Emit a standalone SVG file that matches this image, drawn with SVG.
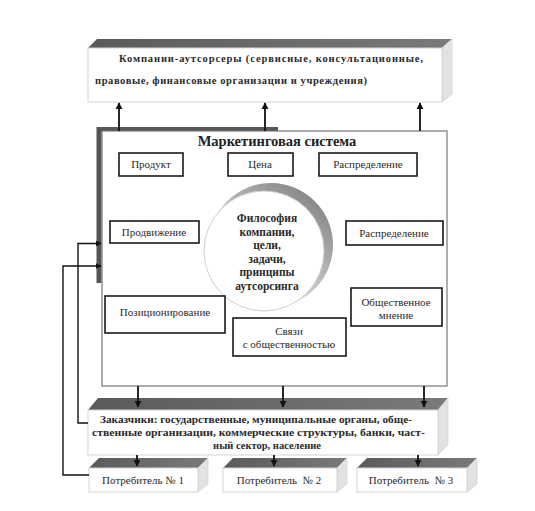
<svg xmlns="http://www.w3.org/2000/svg" width="535" height="511" viewBox="0 0 535 511" font-family="'Liberation Serif', 'Times New Roman', serif">
<style>
.bg{fill:#ffffff}
.box{fill:#ffffff;stroke:#1a1a1a;stroke-width:1.6}
.front{fill:#ffffff;stroke:#d4d4d4;stroke-width:1}
.bevel{fill:url(#bev)}
.side{fill:#e2e2e2;stroke:#d4d4d4;stroke-width:0.8}
text{font-family:'Liberation Serif','Times New Roman',serif}
.t{font-size:11px;fill:#2a2a2a;text-anchor:middle}
.tb{font-size:10.5px;font-weight:bold;fill:#2a2a2a}
.tc{font-size:11.5px;font-weight:bold;fill:#2a2a2a;text-anchor:middle}
.title{font-size:14.5px;font-weight:bold;fill:#222;text-anchor:middle}
.ln{fill:none;stroke:#111;stroke-width:1.8}
.ln2{fill:none;stroke:#111;stroke-width:1.4}
</style>
<defs>
<linearGradient id="bev" x1="0" y1="0" x2="1" y2="0">
<stop offset="0" stop-color="#5a5a5a"/>
<stop offset="1" stop-color="#7a7a7a"/>
</linearGradient>
<linearGradient id="crescent" x1="0.9" y1="0" x2="0.1" y2="1">
<stop offset="0" stop-color="#7a7a7a"/>
<stop offset="0.5" stop-color="#c0c0c0"/>
<stop offset="1" stop-color="#f2f2f2"/>
</linearGradient>
<marker id="ah" viewBox="0 0 10 10" refX="9" refY="5" markerWidth="4" markerHeight="4" orient="auto">
<path d="M0,0 L10,5 L0,10 z" fill="#111"/>
</marker>
</defs>
<rect class="bg" x="0" y="0" width="535" height="511"/>

<g id="outsourcers">
<polygon class="bevel" points="88,48 97,39 452,39 442,48"/>
<polygon class="side" points="442,48 452,39 452,94 442,102"/>
<rect class="front" x="88" y="48" width="354" height="54"/>
<text class="tb" x="119" y="62" textLength="304" lengthAdjust="spacing">Компании-аутсорсеры  (сервисные,  консультационные,</text>
<text class="tb" x="95" y="84" textLength="272" lengthAdjust="spacing">правовые, финансовые организации и учреждения)</text>
</g>

<g id="marketing-system">
<path d="M99,283 V129.5 H278" fill="none" stroke="#555" stroke-width="5"/>
<rect x="102" y="131" width="345" height="255" fill="#fff" stroke="#777" stroke-width="1.2"/>
<text class="title" x="277" y="146">Маркетинговая система</text>
</g>

<g id="philosophy">
<circle cx="271" cy="245" r="62" fill="url(#crescent)"/>
<circle cx="264" cy="251" r="60" fill="#ffffff" stroke="#cfcfcf" stroke-width="1"/>
<text class="tc" x="267"><tspan x="267" y="222">Философия</tspan><tspan x="267" y="235.5">компании,</tspan><tspan x="267" y="249">цели,</tspan><tspan x="267" y="262.5">задачи,</tspan><tspan x="267" y="276">принципы</tspan><tspan x="267" y="289.5">аутсорсинга</tspan></text>
</g>

<g id="product"><rect class="box" x="119" y="153" width="64" height="23"/><text class="t" x="151" y="168">Продукт</text></g>
<g id="price"><rect class="box" x="228" y="153" width="65" height="23"/><text class="t" x="260" y="168">Цена</text></g>
<g id="distribution-top"><rect class="box" x="319" y="153" width="98" height="23"/><text class="t" x="368" y="168">Распределение</text></g>
<g id="promotion"><rect class="box" x="110" y="221" width="89" height="22"/><text class="t" x="154" y="235.5">Продвижение</text></g>
<g id="distribution-right"><rect class="box" x="346" y="221" width="97" height="24"/><text class="t" x="394" y="236.5">Распределение</text></g>
<g id="positioning"><rect class="box" x="105" y="296" width="120" height="37"/><text class="t" x="165" y="315.5">Позиционирование</text></g>
<g id="public-relations"><rect class="box" x="233" y="318" width="113" height="38"/><text class="t" x="289" y="334.5">Связи</text><text class="t" x="289" y="347.5">с общественностью</text></g>
<g id="public-opinion"><rect class="box" x="351" y="288" width="91" height="38"/><text class="t" x="396" y="305.5">Общественное</text><text class="t" x="396" y="318.5">мнение</text></g>

<g id="customers">
<polygon class="bevel" points="88,410 98,398 448,398 438,410"/>
<polygon class="side" points="438,410 448,398 448,445 438,455"/>
<rect class="front" x="88" y="410" width="350" height="45"/>
<text class="tb" x="100" y="423" textLength="312" lengthAdjust="spacingAndGlyphs">Заказчики: государственные, муниципальные органы, обще-</text>
<text class="tb" x="92" y="436" textLength="333" lengthAdjust="spacingAndGlyphs">ственные организации, коммерческие структуры, банки, част-</text>
<text class="tb" x="267" y="449" text-anchor="middle">ный сектор, население</text>
</g>

<g id="consumer-1">
<polygon class="bevel" points="89,468 99,458 208,458 198,468"/>
<polygon class="side" points="198,468 208,458 208,484 198,492"/>
<rect class="front" x="89" y="468" width="109" height="24"/>
<text class="t" x="143" y="483.5">Потребитель № 1</text>
</g>
<g id="consumer-2">
<polygon class="bevel" points="223,468 233,458 347,458 337,468"/>
<polygon class="side" points="337,468 347,458 347,484 337,492"/>
<rect class="front" x="223" y="468" width="114" height="24"/>
<text class="t" x="279" y="483.5" xml:space="preserve">Потребитель  № 2</text>
</g>
<g id="consumer-3">
<polygon class="bevel" points="357,468 367,458 477,458 467,468"/>
<polygon class="side" points="467,468 477,458 477,484 467,492"/>
<rect class="front" x="357" y="468" width="110" height="24"/>
<text class="t" x="411" y="483.5" xml:space="preserve">Потребитель  № 3</text>
</g>

<g id="connectors">
<line class="ln" x1="119" y1="131" x2="119" y2="103" marker-end="url(#ah)"/>
<line class="ln" x1="265" y1="131" x2="265" y2="103" marker-end="url(#ah)"/>
<line class="ln" x1="420" y1="131" x2="420" y2="103" marker-end="url(#ah)"/>
<line class="ln" x1="138" y1="386" x2="138" y2="407" marker-end="url(#ah)"/>
<line class="ln" x1="283" y1="386" x2="283" y2="407" marker-end="url(#ah)"/>
<line class="ln" x1="424" y1="386" x2="424" y2="407" marker-end="url(#ah)"/>
<line class="ln" x1="137" y1="455" x2="137" y2="466" marker-end="url(#ah)"/>
<line class="ln" x1="274" y1="455" x2="274" y2="466" marker-end="url(#ah)"/>
<line class="ln" x1="418" y1="455" x2="418" y2="466" marker-end="url(#ah)"/>
<path class="ln2" d="M88,423 H78 V243.5 H101" marker-end="url(#ah)"/>
<path class="ln2" d="M89,475 H63 V266 H101" marker-end="url(#ah)"/>
</g>
</svg>
